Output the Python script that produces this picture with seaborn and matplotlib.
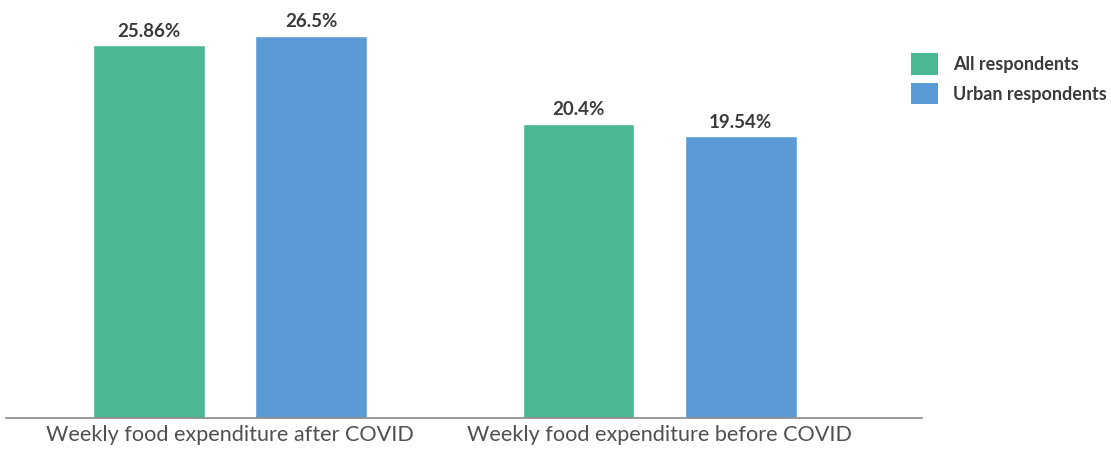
import matplotlib
matplotlib.use("Agg")
import matplotlib.pyplot as plt
import seaborn as sns
import pandas as pd
from matplotlib.patches import Patch

categories = ["Weekly food expenditure after COVID", "Weekly food expenditure before COVID"]
series_names = ["All respondents", "Urban respondents"]
all_values = [25.86, 20.4]
urban_values = [26.5, 19.54]
value_labels_all = ["25.86%", "20.4%"]
value_labels_urban = ["26.5%", "19.54%"]

colors = ["#4BB895", "#5A9BD6"]

df = pd.DataFrame({
    "category": categories * 2,
    "series": [series_names[0]] * 2 + [series_names[1]] * 2,
    "value": all_values + urban_values,
})

sns.set_theme(style="white")
plt.rcParams["font.family"] = ["Lato", "DejaVu Sans"]

fig = plt.figure(figsize=(11.11, 4.5), dpi=100)
ax = fig.add_axes([6 / 1111, 32 / 450, (922 - 6) / 1111, 418 / 450])

sns.barplot(data=df, x="category", y="value", hue="series", palette=colors,
            width=0.755, gap=0.31, ax=ax, legend=False, saturation=1)

for cont, labs in zip(ax.containers, [value_labels_all, value_labels_urban]):
    ax.bar_label(cont, labels=labs, padding=4, fontsize=13.5, fontweight="bold", color="#3a3a3a")

ax.set_ylim(0, 29)
ax.set_xlim(-0.522, 1.611)
ax.set_xlabel("")
ax.set_ylabel("")
ax.set_yticks([])
for s in ["top", "right", "left"]:
    ax.spines[s].set_visible(False)
ax.spines["bottom"].set_color("#8a8a8a")
ax.spines["bottom"].set_linewidth(1.2)
ax.tick_params(axis="x", length=0, pad=5, labelsize=15.6, labelcolor="#505050")

handles = [Patch(facecolor=c, edgecolor="none") for c in colors]
leg = fig.legend(handles, series_names, loc="upper left", bbox_to_anchor=(906 / 1111, 1 - 48 / 450),
                 frameon=False, fontsize=13, handlelength=1.45, handleheight=1.45,
                 handletextpad=0.85, labelspacing=0.45, borderaxespad=0, borderpad=0.3)
for t in leg.get_texts():
    t.set_fontweight("bold")
    t.set_color("#3a3a3a")

fig.savefig("out.png", dpi=100)
